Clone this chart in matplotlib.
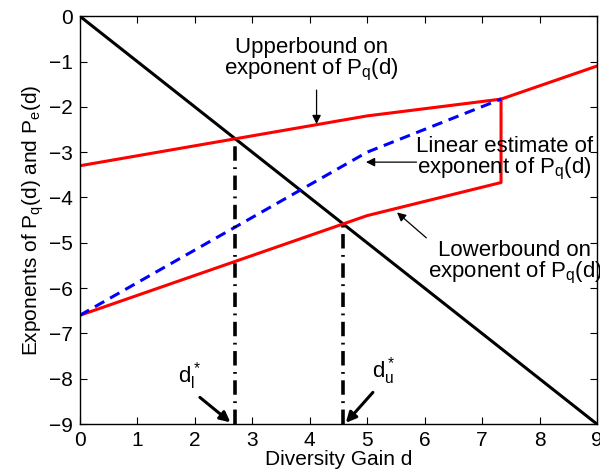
import matplotlib
matplotlib.use("Agg")
import matplotlib.pyplot as plt

plt.rcParams['font.family'] = ['Liberation Sans', 'DejaVu Sans']
plt.rcParams['mathtext.fontset'] = 'custom'
plt.rcParams['mathtext.rm'] = 'Liberation Sans'
plt.rcParams['mathtext.it'] = 'Liberation Sans'
plt.rcParams['mathtext.default'] = 'regular'

# Data
pe_x = [0, 9]
pe_y = [0, -9]
upper_x = [0, 5, 7.33, 9]
upper_y = [-3.3, -2.2, -1.83, -1.1]
lower_x = [0, 5, 7.33, 7.33]
lower_y = [-6.6, -4.4, -3.67, -1.83]
linear_x = [0, 5, 7.33]
linear_y = [-6.6, -3.0, -1.83]
dl = 2.7
du = 4.58
xticks = list(range(0, 10))
yticks = list(range(-9, 1))

fig = plt.figure(figsize=(6, 4.76), dpi=100)
ax = fig.add_axes([0.133, 0.109, 0.862, 0.857])

ax.plot(pe_x, pe_y, color='black', lw=2.2)
ax.plot(upper_x, upper_y, color='red', lw=2.2)
ax.plot(lower_x, lower_y, color='red', lw=2.2)
ax.plot(linear_x, linear_y, color='blue', lw=2.2, ls=(0, (3.5, 2.2)))
ax.plot([dl, dl], [-9, -dl], color='black', lw=2.6, ls=(0, (4, 1.8, 0.5, 1.8)))
ax.plot([du, du], [-9, -du], color='black', lw=2.6, ls=(0, (4, 1.8, 0.5, 1.8)))

ax.set_xlim(0, 9)
ax.set_ylim(-9, 0)
ax.set_xticks(xticks)
ax.set_yticks(yticks)
ax.tick_params(direction='in', top=True, right=True, labelsize=15, length=5, width=0.8, pad=5)
for s in ax.spines.values():
    s.set_linewidth(1.0)
ax.set_xlabel('Diversity Gain d', fontsize=15, labelpad=0)
ax.set_ylabel('Exponents of P$_q$(d) and P$_e$(d)', fontsize=15, labelpad=2)

fs = 16
thin = dict(arrowstyle='-|>', color='black', lw=0.9, shrinkA=0, shrinkB=0, mutation_scale=13)
thick = dict(arrowstyle='-|>', color='black', lw=2.2, shrinkA=0, shrinkB=0, mutation_scale=15)

ax.text(4.03, -0.97, 'Upperbound on\nexponent of P$_q$(d)', ha='center', va='center',
        fontsize=fs, linespacing=0.95)
ax.annotate('', xy=(4.12, -2.38), xytext=(4.12, -1.63), arrowprops=thin)

ax.text(7.39, -3.15, 'Linear estimate of\nexponent of P$_q$(d)', ha='center', va='center',
        fontsize=fs, linespacing=0.95)
ax.annotate('', xy=(4.98, -3.22), xytext=(5.86, -3.22), arrowprops=thin)

ax.text(7.57, -5.45, 'Lowerbound on\nexponent of P$_q$(d)', ha='center', va='center',
        fontsize=fs, linespacing=0.95)
ax.annotate('', xy=(5.52, -4.33), xytext=(6.03, -4.89), arrowprops=thin)

ax.text(1.91, -7.93, 'd$_l^*$', ha='center', va='center', fontsize=fs)
ax.annotate('', xy=(2.62, -8.96), xytext=(2.09, -8.41), arrowprops=thick)

ax.text(5.29, -7.82, 'd$_u^*$', ha='center', va='center', fontsize=fs)
ax.annotate('', xy=(4.63, -8.97), xytext=(5.10, -8.30), arrowprops=thick)

fig.savefig('out.png', dpi=100)
